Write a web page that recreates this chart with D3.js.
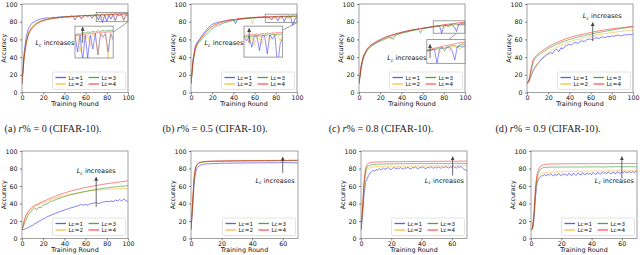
<!DOCTYPE html>
<html><head><meta charset="utf-8">
<script src="https://cdn.jsdelivr.net/npm/d3@7"></script>
<style>body{margin:0;background:#fff}svg{display:block}</style>
</head><body><svg id="c" width="640" height="255"></svg>
<script>
// ---------- data ----------
const seriesLabels = ["Lc=1","Lc=2","Lc=3","Lc=4"];
const seriesColors = ["#0000ff","#ffa500","#008000","#ff0000"];
const legendColors = ["#5a5aff","#ffbb44","#4ca64c","#ff5a5a"];
const yTickValues = [0,20,40,60,80,100];
const xTicks100 = [0,20,40,60,80,100];
const xTicks70 = [0,20,40,60];
const captionTexts = ["0","0.5","0.8","0.9"];
const captionLetters = ["a","b","c","d"];

// top row: rounds 0,2,...,100
const topA_lc1 = [10,45,63,72,76,79,80,81.5,82.5,83,83.5,84,84.5,84,84.8,85,84.5,85.5,85,86,85.5,86,85,86.5,86,82,86,86.5,83,86.5,87,86,87,84,87,87.5,82,87.5,79,87.5,80,87.5,83,88,81,88,87,88,82,88,86];
const topA_lc2 = [10,40,58,67,72,75,77.5,79,80,81,82,82.5,83,83.5,84,84,84.5,84,85,84,85.5,85,85.8,84,86,86,85,86.5,84,86.5,86.5,84.5,87,86.5,85,87,87.5,82,87.5,86,87.5,84,88,87.5,81,88,86.5,88,80,88,87];
const topA_lc3 = [10,40,57,66,71,74,76.5,78,79.5,80.5,81.5,82,82.8,83.2,83.6,84,84.3,84.6,85,85.2,85.4,85.5,85.8,86,86.2,86.3,86.5,86.6,86.8,86.9,87,87.1,87.2,87.3,87.4,87.5,88,87.8,88.5,88.2,88.6,88.4,88.8,88.5,89,88.7,89.1,88.8,89.2,89,89.3];
const topA_lc4 = [10,40,56,65,70,73,75.5,77.5,79,80,81,81.8,82.5,83,83.4,83.8,84.2,84.5,84.8,85,85.2,85.4,85.6,85.8,86,86.1,86.3,86.4,86.6,86.7,86.9,87,87.1,87.2,87.3,87.4,87.6,87.5,87.9,87.7,88.1,87.9,88.3,88,88.5,88.2,88.6,88.3,88.7,88.5,88.8];

const topB_lc1 = [10,38,52,57,60,64,67,70,73,75,77,78,79,79.5,80,80.5,81,81.5,82,82,82.5,78,83,83.2,83.5,83.5,84,84,84.2,84.5,84.5,84.7,85,84.5,85,85.2,84,85.3,82,85.5,85.5,81,85.6,85.5,80,85.8,84.5,85.8,76,83,85];
const topB_lc2 = [10,36,50,56,59,62,65,68,71,73,75,76.5,77.5,78.5,79,80,80.5,81,81.5,82,82,82.5,83,83,83.3,83.5,83.8,84,84,78,84.5,84.5,84.7,85,85,85.2,85.3,83,85.5,82.5,85.6,85.5,83,85.8,85.5,84,86,85.8,86,84,86];
const topB_lc3 = [10,35,48,54,57,60,62.5,65,67.5,70,72,73.5,75,76,77,78,79,79.5,80.2,80.8,81.3,81.8,82.2,82.6,83,83.2,83.5,83.8,84,84.2,84.4,84.6,84.8,84.9,85,85.1,85.3,85.2,85.5,85.4,85.6,85.5,85.8,85.6,85.9,85.7,86,85.8,86.1,85.9,86.2];
const topB_lc4 = [10,36,50,56,59,62,65,68,70.5,72.5,74.5,76,77,78,79,79.8,80.5,81,81.5,82,82.4,82.8,83.2,83.5,83.8,84,84.2,84.4,84.6,84.8,85,85.1,85.3,85.4,85.5,85.6,85.8,85.6,86,85.8,86.1,86,86.3,86.1,86.4,86.2,86.5,86.3,86.6,86.4,86.7];

const topC_lc1 = [10,30,40,45,49,52,54,55,56.5,58,59,60.5,61.5,62.5,63.5,64,65,65.8,66.5,67,67.8,68.3,69,69.5,70,70.5,71,71.3,71.8,72,72.5,72.8,73.2,73.5,74,74.2,74.5,75,75,67,75.5,76,75.8,76.2,76.5,74,69,77,77.2,76.5,77];
const topC_lc2 = [10,28,39,45,49,51,53,55,56,57.5,58.5,60,61,62,63,60,64.5,65,66,66.5,67.3,68,68.5,69,69.8,70.2,70.8,71,71.5,72,72.3,72.8,73,73.5,73.8,74.2,74.5,74.8,75,75.3,73,75.8,76,76.3,74.5,76.8,77,77.2,75,77.5,78];
const topC_lc3 = [10,27,38,44,48,50.5,52.5,54,55.5,57,58,59,60,61,62,62.5,60,64.5,65.3,66,66.8,67.5,68,68.5,69.2,69.8,70.3,70.8,71.2,67.5,72,72.5,73,73.3,73.8,74.2,74.6,75,75.2,75.5,76,76.2,74,76.8,77,77.3,77.5,76,78,78.2,78.5];
const topC_lc4 = [10,30,41,46,50,52.5,54.5,56,57.5,59,60,61.2,62.3,63.2,64,64.8,65.5,66.2,66.9,67.5,68.1,68.7,69.2,69.7,70.2,70.7,71.1,71.5,71.9,72.3,72.7,73.1,73.5,73.9,74.3,74.7,75.1,75.5,75.8,76.2,76.5,76.9,77.2,77.5,77.8,78.1,78.4,78.7,79,79.2,79.5];

const topD_lc1 = [10,13,19,25,29,32,35,38,40,42,43.5,45,44,47.5,49,46,50.5,49.5,52.5,53.5,54.5,53.5,56,56.5,55.5,57.8,58.3,57.5,59.5,60,60.5,59.5,61.5,61.8,61,62.5,62.8,62,63.5,63,64,63.5,64.5,64.8,64,64.5,65.3,64.8,65.8,65.2,66];
const topD_lc2 = [10,13,20,26,30,33,36,39,41,43,45,47,48.5,50,51,52.5,53.5,54.5,55.5,56.5,57.3,58,58.8,59.5,60.2,60,61.4,62,62.5,63,63.5,64,64.5,65,65.4,65.8,66.2,66.6,67,67.3,67.7,68,68.3,68.6,69,69.2,69.5,69.7,70,70.2,70];
const topD_lc3 = [10,14,25,35,39,41.5,43,45,46.5,48,49.5,51,52,53.5,54.5,55.5,56.5,57.5,58.3,59,59.8,60.5,61.2,62,62.5,63.2,63.8,64.3,64.8,65.4,65.9,66.4,66.9,67.4,67.8,68.3,68.8,69.2,69.7,70.1,70.5,70.9,71.3,71.8,72.2,72.5,72.9,73.2,73.6,74,74.3];
const topD_lc4 = [10,15,28,38,41,43,45,47,48.5,50,51.5,53,54,55.5,56.5,57.5,58.5,59.5,60.5,61.3,62,62.8,63.5,64,64.6,65.2,65.8,66.3,66.8,67.3,67.8,68.3,68.8,69.2,69.6,70,70.4,70.8,71.2,71.5,71.9,72.2,72.5,72.8,73.1,73.4,73.6,73.9,74.2,74.4,74.7];

// bottom (a): rounds 0,2,...,100
const botA_lc1 = [10,10.5,11.5,12.5,14,15,17,18,19.5,21,22.5,23.5,25,26,27,28,29,30,31,31.5,32.5,33.5,34,35,35.5,36.5,37,38,39,38,39,38,39.5,40,40.5,41,40,40.5,41.5,42,42.5,42,43,42,44,43,44.5,43,45,43.5,42];
const botA_lc2 = [10,20,27,30,33,35,36.5,38,39,40,41,42,42.5,43.5,44.5,45.5,46,47,47.8,48.5,49,49.8,50.3,50.8,51.3,51.8,52.2,52.6,53,53.4,53.8,54.2,54.5,54.8,55.1,55.4,55.6,55.2,56,56.2,56.4,56.1,56.7,56.9,56.5,57.2,57.4,57,57.6,56.8,57.5];
const botA_lc3 = [10,16,22,27,30,33,35,33,36,35,38,39,40,41.5,42.5,43.5,44.5,45.5,46.2,47,47.8,48.5,49.2,50,50.5,51,51.6,52.2,52.8,53.3,53.8,54.3,54.8,55.2,55.6,56,56.5,56.8,57.2,57.6,57.8,58.2,58.5,58.8,59,59.3,59.6,60,59.5,60.5,60];
const botA_lc4 = [10,20,27,31,34,36,38,39,40,41.5,42.5,43.5,44.5,45.5,46.5,47.5,48.5,49.5,50.5,51.2,52,52.8,53.5,54.2,55,55.5,56,56.6,57.2,57.8,58.3,58.8,59.3,59.8,60.2,60.6,61,61.4,61.8,62.2,62.6,63,63.3,63.6,64,64.3,64.6,65,65.3,65.6,66];

// bottom (b)-(d): rounds 0,1,...,70
const botB_lc1 = [10,34,62,76,80.5,82.5,83.5,84.2,84.6,85,85.3,85.5,85.2,85.7,85.5,85.9,85.6,86,85.7,86.1,85.8,86.2,85.9,86.3,85.8,86.2,86,86.4,85.9,86.3,86.1,86.5,86,86.4,86.2,86.6,86.1,86.5,86.3,86.7,86.2,86.6,86.3,86.8,86.2,86.7,86.4,86.8,86.3,86.7,86.5,86.9,86.4,86.8,86.5,86.9,86.4,86.8,86.6,87,86.5,86.9,86.6,87,86.5,86.9,86.6,86.2,86.8,86.4,86.7];
const botB_lc2 = [10,36,66,80,84,85.5,86.3,86.8,87.1,87.4,87.6,87.7,87.8,87.9,88,88,88.1,88,88.1,88.2,88.1,88.2,88.2,88.1,88.3,88.2,88.3,88.2,88.3,88.4,88.3,88.4,88.3,88.4,88.4,88.3,88.5,88.4,88.5,88.4,88.5,88.5,88.4,88.6,88.5,88.6,88.5,88.6,88.6,88.5,88.7,88.6,88.7,88.6,88.7,88.7,88.6,88.8,88.7,88.8,88.7,88.8,88.8,88.7,88.8,88.9,88.8,88.9,88.8,88.9,88.9];
const botB_lc3 = [10,38,68,81,84.5,86,86.8,87.2,87.5,87.7,87.9,88,88.1,88.2,88.2,88.3,88.3,88.4,88.3,88.4,88.5,88.4,88.5,88.5,88.4,88.6,88.5,88.6,88.6,88.5,88.7,88.6,88.7,88.6,88.7,88.8,88.7,88.8,88.7,88.8,88.8,88.7,88.9,88.8,88.9,88.8,88.9,88.9,88.8,89,88.9,89,88.9,89,89,88.9,89,89.1,89,89.1,89,89.1,89.1,89,89.1,89.2,89.1,89.2,89.1,89.2,89.2];
const botB_lc4 = [10,40,70,82,85,86.5,87,87.5,87.8,88,88.2,88.3,88.4,88.5,88.5,88.6,88.6,88.7,88.6,88.7,88.8,88.7,88.8,88.9,88.8,88.9,88.9,89,88.9,89,89,88.9,89,89.1,89,89.1,89,89.1,89.1,89,89.1,89.2,89.1,89.2,89.1,89.2,89.2,89.1,89.2,89.3,89.2,89.3,89.2,89.3,89.3,89.2,89.3,89.4,89.3,89.4,89.3,89.4,89.4,89.3,89.4,89.5,89.4,89.5,89.4,89.5,89.5];

const botC_lc1 = [10,25,50,64,68,72,75,76.5,78,77,79,78,80,78.5,79.5,80.5,79,80,81,79.5,78.8,80.5,81,79.5,80.8,79.8,81.2,80,79.2,81,80.2,81.5,80,79.5,81.3,80.5,81.8,80.2,79.8,81.5,80.8,82,80.5,79.8,81.6,80.5,82,81,80.2,81.8,80.6,82.2,81,80.3,81.9,80.8,82.3,81.2,80.5,82,81,82.5,81.3,80.6,82.2,81,82.4,80.5,79,78.5,77.5];
const botC_lc2 = [10,32,58,73,78,80,81,81.5,81.8,82,82.2,82.1,82.4,82.2,82.5,82.3,82.6,82.4,82.7,82.5,82.3,82.8,82.5,82.7,82.4,82.8,82.6,82.9,82.5,82.8,82.6,83,82.7,82.5,82.9,82.7,83,82.6,82.9,82.7,83.1,82.8,82.6,83,82.8,83.1,82.7,83,82.8,83.2,82.9,82.7,83.1,82.9,83.2,82.8,83.1,82.9,83.3,83,82.8,83.2,83,83.3,82.9,83.2,83,83.3,83.1,82.9,83.2];
const botC_lc3 = [10,33,62,77,81.5,83,83.8,84.2,84.5,84.7,84.8,85,84.8,85.1,85,85.2,85,85.3,85.1,85.3,85.2,85.4,85.2,85.5,85.3,85.4,85.6,85.3,85.5,85.4,85.6,85.5,85.7,85.4,85.6,85.5,85.7,85.6,85.4,85.7,85.6,85.8,85.5,85.7,85.6,85.8,85.7,85.5,85.8,85.7,85.9,85.6,85.8,85.7,85.9,85.8,85.6,85.9,85.8,86,85.7,85.9,85.8,86,85.9,85.7,86,85.9,85.6,85.8,85];
const botC_lc4 = [10,35,65,80,84.5,86,86.6,87,87.2,87.3,87.4,87.5,87.4,87.6,87.5,87.7,87.6,87.7,87.8,87.6,87.8,87.7,87.9,87.8,87.7,87.9,87.8,88,87.9,87.8,88,87.9,88,88.1,87.9,88,88.1,88,87.9,88.1,88,88.2,88.1,88,88.2,88.1,88.2,88.1,88.3,88.2,88.1,88.3,88.2,88.3,88.2,88.4,88.3,88.2,88.4,88.3,88.4,88.3,88.2,88.4,88.3,88.4,88.5,88.3,88.4,88.5,88.4];

const botD_lc1 = [10,10.5,22,48,63,68,70,71.5,72,73,71.5,73.5,72,74,72.5,71.5,73.8,72,74.2,72.8,71.8,74,72.5,73.5,71.8,74.5,73,72,74.8,73.2,72.2,75,73.5,72.5,75.2,73.8,72.8,75,73.5,74.5,72.8,75.5,74,73,75.8,74.2,73.5,76,74.5,75.5,73.8,76.2,74.8,73.8,76,75,74,76.5,75.2,74.2,76.3,75,76.8,74.8,75.5,76.5,75,76.8,75.2,76.5,75.5];
const botD_lc2 = [10,11,25,52,66,71,73.5,74.5,75,74.5,75.5,75,76,75.2,76.3,75.5,76,76.8,75.5,76.5,75.8,77,76,76.5,77.2,75.8,76.8,76.2,77.3,76,76.8,77.5,76.2,77,76.5,77.5,76.3,77.2,76.6,77.6,76.4,77.3,76.8,77.7,76.5,77.4,76.9,77.8,76.6,77.5,77,77.9,76.7,77.5,77.1,78,76.8,77.6,77.2,78,76.9,77.7,77.3,78.1,77,77.8,77.3,78,77.1,77.8,77.4];
const botD_lc3 = [10,11.5,28,57,70,75.5,78.5,80,80.8,81.2,81.5,81.3,81.6,81.4,81.7,81.5,81.8,81.6,81.4,81.7,81.5,81.8,81.6,81.9,81.7,81.5,81.8,81.6,81.9,81.7,82,81.7,81.5,81.8,81.6,81.9,81.7,82,81.8,81.6,81.9,81.7,82,81.8,82.1,81.8,81.6,81.9,81.7,82,81.8,82.1,81.9,81.7,82,81.8,82.1,81.9,82.2,81.9,81.7,82,81.8,82.1,81.9,82.2,82,81.8,82.1,81.9,82];
const botD_lc4 = [10,12,30,60,74,79,82,83.5,84.2,84.6,84.8,85,85.1,85.2,85,85.3,85.2,85.4,85.3,85.2,85.4,85.3,85.5,85.4,85.3,85.5,85.4,85.2,85.5,85.4,85.6,85.3,85.5,85.4,85.6,85.5,85.3,85.6,85.5,85.4,85.6,85.5,85.7,85.4,85.6,85.5,85.7,85.6,85.4,85.7,85.6,85.5,85.7,85.6,85.8,85.5,85.7,85.6,85.8,85.7,85.5,85.8,85.7,85.6,85.8,85.7,85.9,85.6,85.8,85.7,85.8];

// ---------- layout ----------
const FONT = "DejaVu Sans, Verdana, sans-serif";
const panels = [
  {frame:[22,128,4,92.5], xDomain:[0,100], xTicks:xTicks100, step:2, series:[topA_lc1,topA_lc2,topA_lc3,topA_lc4],
   inset:{zx:[70,100], zy:[80,90.5], box:[50,86,39,75], conn:[[100,80],[86,68]], arrow:{x:76,y0:85,y1:90.2}},
   label:{x:49.5,y:56,anchor:"end"}},
  {frame:[191,297,4,92.5], xDomain:[0,100], xTicks:xTicks100, step:2, series:[topB_lc1,topB_lc2,topB_lc3,topB_lc4],
   inset:{zx:[70,100], zy:[79,88.5], box:[50,86.5,40,75], conn:[[100,79],[86.5,70.5]], arrow:{x:74,y0:83.5,y1:87.8}},
   label:{x:49.5,y:56,anchor:"end"}},
  {frame:[359,465,4,92.5], xDomain:[0,100], xTicks:xTicks100, step:2, series:[topC_lc1,topC_lc2,topC_lc3,topC_lc4],
   inset:{zx:[70,100], zy:[67,81], box:[64,100,33,60], conn:[[92,67],[85,60]], arrow:{x:72.5,y0:70,y1:78}},
   label:{x:63.5,y:39,anchor:"end"}},
  {frame:[527,633,4,92.5], xDomain:[0,100], xTicks:xTicks100, step:2, series:[topD_lc1,topD_lc2,topD_lc3,topD_lc4],
   arrow:{x:62,y0:58,y1:79}, label:{x:71,y:86.5,anchor:"middle"}},
  {frame:[22,128,151,238.5], xDomain:[0,100], xTicks:xTicks100, step:2, series:[botA_lc1,botA_lc2,botA_lc3,botA_lc4],
   arrow:{x:70,y0:36,y1:70}, label:{x:70,y:77,anchor:"middle"}},
  {frame:[191,298,151,238.5], xDomain:[0,70], xTicks:xTicks70, step:1, series:[botB_lc1,botB_lc2,botB_lc3,botB_lc4],
   arrow:{x:60,y0:75,y1:93}, label:{x:55,y:66,anchor:"middle"}},
  {frame:[361,467,151,238.5], xDomain:[0,70], xTicks:xTicks70, step:1, series:[botC_lc1,botC_lc2,botC_lc3,botC_lc4],
   arrow:{x:60.5,y0:72,y1:93.5}, label:{x:55,y:66,anchor:"middle"}},
  {frame:[531,637,151,238.5], xDomain:[0,70], xTicks:xTicks70, step:1, series:[botD_lc1,botD_lc2,botD_lc3,botD_lc4],
   arrow:{x:60,y0:69,y1:93.5}, label:{x:55,y:66,anchor:"middle"}}
];
const captionCenters = [53,215,381,548];

const svg = d3.select("#c");
svg.append("rect").attr("width",640).attr("height",255).attr("fill","#fff");
const defs = svg.append("defs");
defs.append("marker").attr("id","ah").attr("viewBox","0 0 10 10")
  .attr("refX",9).attr("refY",5).attr("markerUnits","userSpaceOnUse")
  .attr("markerWidth",4).attr("markerHeight",4).attr("orient","auto")
  .append("path").attr("d","M0,0L10,5L0,10z").attr("fill","#444");

function mathLabel(g, px, py, anchor) {
  const t = g.append("text").attr("x",px).attr("y",py+2.3).attr("text-anchor",anchor)
    .attr("font-family",FONT).attr("font-size",6.5).attr("fill","#111");
  t.append("tspan").attr("font-style","italic").text("L");
  t.append("tspan").attr("font-style","italic").attr("font-size",4.6).attr("dy",1.4).text("c");
  t.append("tspan").attr("dy",-1.4).text(" increases");
}

function drawLines(g, series, sx, sy, step, width) {
  const line = d3.line().x((d,i)=>sx(i*step)).y(d=>sy(d));
  series.forEach((s,k)=>{
    g.append("path").attr("d",line(s)).attr("fill","none")
     .attr("stroke",seriesColors[k]).attr("stroke-opacity",0.55)
     .attr("stroke-width",width).attr("stroke-linejoin","round");
  });
}

panels.forEach((p, idx) => {
  const [L,R,T,B] = p.frame;
  const x = d3.scaleLinear().domain(p.xDomain).range([L,R]);
  const y = d3.scaleLinear().domain([0,100]).range([B,T]);
  const g = svg.append("g");
  const cid = "clip"+idx;
  defs.append("clipPath").attr("id",cid).append("rect")
    .attr("x",L).attr("y",T).attr("width",R-L).attr("height",B-T);
  const lg = g.append("g").attr("clip-path",`url(#${cid})`);
  drawLines(lg, p.series, x, y, p.step, 0.9);

  // frame
  g.append("rect").attr("x",L).attr("y",T).attr("width",R-L).attr("height",B-T)
    .attr("fill","none").attr("stroke","#8a8a8a").attr("stroke-width",0.8);

  // axes
  const xa = g.append("g").attr("transform",`translate(0,${B})`)
    .call(d3.axisBottom(x).tickValues(p.xTicks).tickSize(2).tickPadding(1).tickFormat(d3.format("d")));
  const ya = g.append("g").attr("transform",`translate(${L},0)`)
    .call(d3.axisLeft(y).tickValues(yTickValues).tickSize(2).tickPadding(2.5).tickFormat(d3.format("d")));
  [xa,ya].forEach(a=>{
    a.select(".domain").remove();
    a.attr("font-family",FONT).attr("font-size",6.3);
    a.selectAll(".tick line").attr("stroke","#333").attr("stroke-width",0.6);
    a.selectAll(".tick text").attr("fill","#111");
  });

  g.append("text").attr("x",(L+R)/2).attr("y",B+13.5).attr("text-anchor","middle")
    .attr("font-family",FONT).attr("font-size",6.4).attr("fill","#111").text("Training Round");
  g.append("text").attr("transform",`translate(${L-17.5},${(T+B)/2}) rotate(-90)`)
    .attr("text-anchor","middle").attr("dominant-baseline","middle")
    .attr("font-family",FONT).attr("font-size",6.4).attr("fill","#111").text("Accuracy");

  // legend
  const lw = 73, lh = 17.5;
  const lx = R - 2.5 - lw, ly = B - 3 - lh;
  const leg = svg.append("g");
  leg.append("rect").attr("x",lx).attr("y",ly).attr("width",lw).attr("height",lh).attr("rx",1.5)
    .attr("fill","#fff").attr("fill-opacity",0.85).attr("stroke","#d0d0d0").attr("stroke-width",0.6);
  seriesLabels.forEach((lab,k)=>{
    const col = Math.floor(k/2), row = k%2;
    const ex = lx + 3 + col*33, ey = ly + 5.5 + row*6.5;
    leg.append("line").attr("x1",ex).attr("x2",ex+10.5).attr("y1",ey).attr("y2",ey)
      .style("stroke",legendColors[k]).style("stroke-width","1.3px");
    leg.append("text").attr("x",ex+13).attr("y",ey+2).attr("font-family",FONT)
      .attr("font-size",5.6).attr("fill","#111").text(lab);
  });

  // inset
  if (p.inset) {
    const I = p.inset;
    const ix0 = x(I.box[0]), ix1 = x(I.box[1]), iyT = y(I.box[3]), iyB = y(I.box[2]);
    const xi = d3.scaleLinear().domain(I.zx).range([ix0, ix1]);
    const yi = d3.scaleLinear().domain(I.zy).range([iyB, iyT]);
    g.append("rect").attr("x",x(I.zx[0])).attr("y",y(I.zy[1]))
      .attr("width",x(I.zx[1])-x(I.zx[0])).attr("height",y(I.zy[0])-y(I.zy[1]))
      .attr("fill","none").attr("stroke","#777").attr("stroke-width",0.7);
    g.append("line").attr("x1",x(I.conn[0][0])).attr("y1",y(I.conn[0][1]))
      .attr("x2",x(I.conn[1][0])).attr("y2",y(I.conn[1][1]))
      .attr("stroke","#777").attr("stroke-width",0.7);
    g.append("rect").attr("x",ix0).attr("y",iyT).attr("width",ix1-ix0).attr("height",iyB-iyT).attr("fill","#fff");
    const icid = "iclip"+idx;
    defs.append("clipPath").attr("id",icid).append("rect")
      .attr("x",ix0).attr("y",iyT).attr("width",ix1-ix0).attr("height",iyB-iyT);
    const ig = g.append("g").attr("clip-path",`url(#${icid})`);
    drawLines(ig, p.series, xi, yi, p.step, 0.8);
    g.append("rect").attr("x",ix0).attr("y",iyT).attr("width",ix1-ix0).attr("height",iyB-iyT)
      .attr("fill","none").attr("stroke","#777").attr("stroke-width",0.7);
    g.append("line").attr("x1",xi(I.arrow.x)).attr("x2",xi(I.arrow.x))
      .attr("y1",yi(I.arrow.y0)).attr("y2",yi(I.arrow.y1))
      .attr("stroke","#444").attr("stroke-width",0.8).attr("marker-end","url(#ah)");
  }
  if (p.arrow) {
    g.append("line").attr("x1",x(p.arrow.x)).attr("x2",x(p.arrow.x))
      .attr("y1",y(p.arrow.y0)).attr("y2",y(p.arrow.y1))
      .attr("stroke","#444").attr("stroke-width",0.8).attr("marker-end","url(#ah)");
  }
  mathLabel(g, x(p.label.x), y(p.label.y), p.label.anchor);

  // caption (top row only)
  if (idx < 4) {
    const t = svg.append("text").attr("x",captionCenters[idx]).attr("y",131.5)
      .attr("text-anchor","middle").attr("font-family","Liberation Serif, Times New Roman, serif")
      .attr("font-size",10.2).attr("font-weight","normal").attr("fill","#222");
    t.append("tspan").text(`(${captionLetters[idx]}) `);
    t.append("tspan").attr("font-style","italic").text("r");
    t.append("tspan").text(`% = ${captionTexts[idx]} (CIFAR-10).`);
  }
});
</script></body></html>
